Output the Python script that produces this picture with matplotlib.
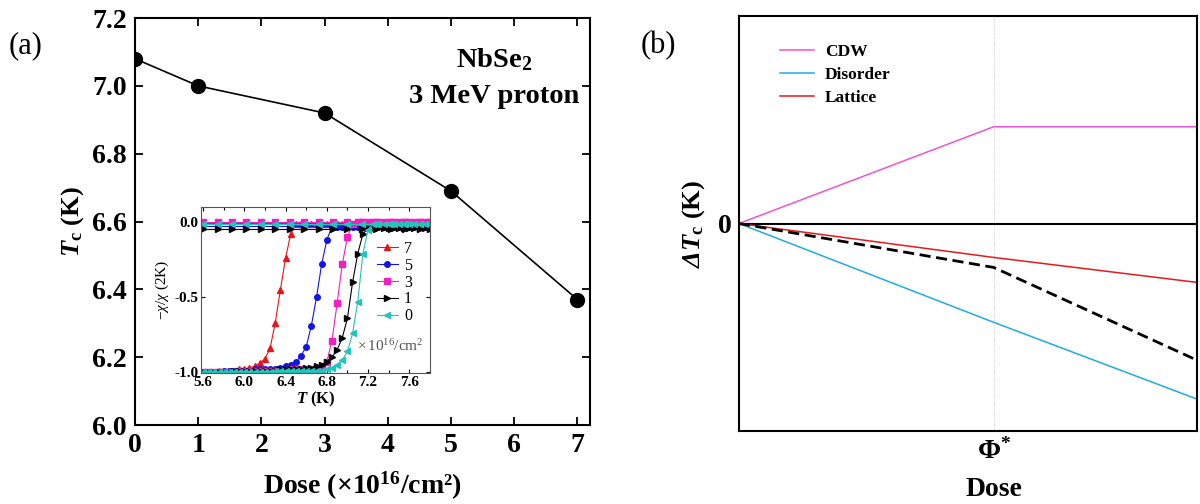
import matplotlib
matplotlib.use("Agg")
import matplotlib.pyplot as plt
import numpy as np

plt.rcParams['font.family'] = ['Liberation Serif', 'DejaVu Serif']
plt.rcParams['mathtext.fontset'] = 'custom'
plt.rcParams['mathtext.rm'] = 'Liberation Serif'
plt.rcParams['mathtext.it'] = 'Liberation Serif:italic'
plt.rcParams['mathtext.bf'] = 'Liberation Serif:bold'
plt.rcParams['mathtext.bfit'] = 'Liberation Serif:italic:bold'
plt.rcParams['axes.unicode_minus'] = False

# ---- panel (a): Tc vs dose
dose = [0, 1, 3, 5, 7]
tc = [7.08, 7.00, 6.92, 6.69, 6.37]

# ---- inset: ZFC susceptibility curves
T_zfc = [5.60, 5.65, 5.70, 5.75, 5.80, 5.85, 5.90, 5.95, 6.00, 6.05,
         6.10, 6.15, 6.20, 6.25, 6.30, 6.35, 6.40, 6.45, 6.50, 6.55,
         6.60, 6.65, 6.70, 6.75, 6.80, 6.85, 6.90, 6.95, 7.00, 7.05,
         7.10, 7.15, 7.20, 7.25, 7.30, 7.35, 7.40, 7.45, 7.50, 7.55,
         7.60, 7.65, 7.70, 7.75, 7.80]

chi_7 = [-1.00, -1.00, -1.00, -0.99, -0.99, -0.99, -0.99, -0.98, -0.98, -0.97,
         -0.96, -0.94, -0.91, -0.84, -0.67, -0.45, -0.24, -0.08, -0.01, -0.01,
         -0.01, -0.01, -0.01, -0.01, -0.01, -0.01, -0.01, -0.01, -0.01, -0.01,
         -0.01, -0.01, -0.01, -0.01, -0.01, -0.01, -0.01, -0.01, -0.01, -0.01,
         -0.01, -0.01, -0.01, -0.01, -0.01]
chi_5 = [-1.00, -1.00, -1.00, -1.00, -0.99, -0.99, -0.99, -0.99, -0.99, -0.99,
         -0.98, -0.98, -0.98, -0.98, -0.98, -0.97, -0.96, -0.95, -0.93, -0.89,
         -0.83, -0.69, -0.50, -0.28, -0.12, -0.03, -0.03, -0.03, -0.03, -0.03,
         -0.03, -0.03, -0.03, -0.03, -0.03, -0.03, -0.03, -0.03, -0.03, -0.03,
         -0.03, -0.03, -0.03, -0.03, -0.03]
chi_3 = [-1.00, -1.00, -1.00, -1.00, -1.00, -1.00, -1.00, -0.99, -0.99, -0.99,
         -0.99, -0.99, -0.99, -0.99, -0.99, -0.99, -0.99, -0.98, -0.98, -0.98,
         -0.98, -0.98, -0.97, -0.96, -0.93, -0.79, -0.54, -0.28, -0.10, -0.01,
         0.00, 0.00, 0.00, 0.00, 0.00, 0.00, 0.00, 0.00, 0.00, 0.00,
         0.00, 0.00, 0.00, 0.00, 0.00]
chi_1 = [-1.00, -1.00, -1.00, -1.00, -1.00, -1.00, -0.99, -0.99, -0.99, -0.99,
         -0.99, -0.99, -0.99, -0.99, -0.99, -0.98, -0.98, -0.98, -0.98, -0.98,
         -0.97, -0.97, -0.96, -0.95, -0.93, -0.90, -0.85, -0.77, -0.64, -0.40,
         -0.21, -0.08, -0.04, -0.04, -0.04, -0.04, -0.04, -0.04, -0.04, -0.04,
         -0.04, -0.04, -0.04, -0.04, -0.04]
chi_0 = [-1.00, -1.00, -1.00, -1.00, -1.00, -1.00, -1.00, -1.00, -1.00, -1.00,
         -1.00, -1.00, -1.00, -1.00, -0.99, -0.99, -0.99, -0.99, -0.99, -0.99,
         -0.99, -0.99, -0.99, -0.99, -0.98, -0.97, -0.95, -0.92, -0.86, -0.74,
         -0.53, -0.21, -0.05, -0.01, -0.01, -0.01, -0.01, -0.01, -0.01, -0.01,
         -0.01, -0.01, -0.01, -0.01, -0.01]

# field-cooled branches, flat near zero
T_fc = [5.60, 5.74, 5.88, 6.02, 6.16, 6.30, 6.44, 6.58, 6.72, 6.86,
        7.00, 7.14, 7.28, 7.42, 7.56, 7.70, 7.80]
fc_levels = [-0.005, -0.025, 0.0, -0.047, -0.01]

labels_in = ['7', '5', '3', '1', '0']
chis = [chi_7, chi_5, chi_3, chi_1, chi_0]
colors_in = ['#e8141c', '#1414e6', '#f020c0', 'black', '#22c4bc']
markers_in = ['^', 'o', 's', '>', '<']

# ---- panel (b): schematic contributions
x_b = [0, 0.556, 1.0]
cdw = [0, 0.97, 0.97]
disorder = [0, -0.99, -1.76]
lattice = [0, -0.34, -0.59]
total = [0, -0.44, -1.37]
phi_star = 0.556

fig = plt.figure(figsize=(12, 5.04), dpi=100)

ax1 = fig.add_axes([0.1125, 0.1567, 0.3792, 0.8075])
ax1.plot(dose, tc, color='black', lw=1.2, marker='o', ms=10, zorder=3)
ax1.set_xlim(0, 7.2)
ax1.set_ylim(6.0, 7.2)
ax1.set_xticks(range(0, 8))
ax1.set_yticks([6.0, 6.2, 6.4, 6.6, 6.8, 7.0, 7.2])
ax1.set_yticklabels(['6.0', '6.2', '6.4', '6.6', '6.8', '7.0', '7.2'])
ax1.tick_params(direction='in', top=True, right=True, length=6, width=1.3,
                labelsize=20, pad=6)
for lbl in ax1.get_xticklabels() + ax1.get_yticklabels():
    lbl.set_fontweight('bold')
for s in ax1.spines.values():
    s.set_linewidth(1.5)
ax1.set_xlabel(r"Dose (×10$^{\mathbf{16}}$/cm²)", fontsize=20, fontweight='bold', labelpad=8)
ax1.set_ylabel(r"$\mathbfit{T}_{\mathbf{c}}$ (K)", fontsize=19, fontweight='bold', labelpad=4)
ax1.text(0.79, 0.897, r"NbSe$_{\mathbf{2}}$", transform=ax1.transAxes, ha='center',
         va='center', fontsize=20.5, fontweight='bold')
ax1.text(0.79, 0.806, "3 MeV proton", transform=ax1.transAxes, ha='center',
         va='center', fontsize=20.5, fontweight='bold')
fig.text(0.007, 0.91, "(a)", fontsize=22, va='center', ha='left')

# inset
axi = fig.add_axes([0.1675, 0.2599, 0.1908, 0.3294])
for lab, chi, c, m, lev in zip(labels_in, chis, colors_in, markers_in, fc_levels):
    axi.plot(T_fc, np.full(len(T_fc), lev), color=c, lw=0.8, marker=m, ms=4)
    axi.plot(T_zfc, chi, color=c, lw=0.8, marker=m, ms=4, label=lab)
axi.set_xlim(5.58, 7.8)
axi.set_ylim(-1.005, 0.1)
axi.set_xticks([5.6, 6.0, 6.4, 6.8, 7.2, 7.6])
axi.set_xticks([5.8, 6.2, 6.6, 7.0, 7.4, 7.8], minor=True)
axi.set_yticks([-1.0, -0.5, 0.0])
axi.set_yticklabels(['-1.0', '-0.5', '0.0'])
axi.tick_params(which='both', direction='in', top=True, right=True, labelsize=11, pad=2)
axi.tick_params(which='major', length=3, width=0.8)
axi.tick_params(which='minor', length=2, width=0.8)
for lbl in axi.get_xticklabels() + axi.get_yticklabels():
    lbl.set_fontweight('bold')
for s in axi.spines.values():
    s.set_linewidth(0.8)
    s.set_color('#555555')
axi.set_xlabel(r"$\mathbfit{T}$ (K)", fontsize=12, fontweight='bold', labelpad=1)
axi.set_ylabel(r"$-\chi/\chi$ (2K)", fontsize=11, labelpad=2)
leg = axi.legend(loc='center right', bbox_to_anchor=(0.97, 0.545), fontsize=11.5,
                 frameon=True, edgecolor='none', facecolor='white', framealpha=1,
                 handlelength=1.3, handletextpad=0.4, labelspacing=0.05,
                 borderpad=0.2)
axi.text(0.97, 0.16, r"$\times\,10^{16}$/cm$^2$", transform=axi.transAxes,
         ha='right', va='center', fontsize=11, color='#555555',
         bbox=dict(facecolor='white', edgecolor='none', pad=1))

# panel (b)
ax2 = fig.add_axes([0.6158, 0.1448, 0.3817, 0.8234])
ax2.axvline(phi_star, color='#bbbbbb', lw=0.6, ls=':')
ax2.axhline(0, color='black', lw=1.5)
ax2.plot(x_b, cdw, color='#f055d0', lw=1.1, label='CDW')
ax2.plot(x_b, disorder, color='#22aae6', lw=1.1, label='Disorder')
ax2.plot(x_b, lattice, color='#e41a1c', lw=1.1, label='Lattice')
ax2.plot(x_b, total, color='black', lw=2.0, ls=(0, (4, 2)))
ax2.set_xlim(0, 1.0)
ax2.set_ylim(-2.08, 2.08)
ax2.set_xticks([phi_star])
ax2.set_xticklabels([r"$\mathbf{\Phi}^{\mathbf{*}}$"])
ax2.set_yticks([0])
ax2.set_yticklabels(['0'])
ax2.tick_params(length=0, labelsize=20, pad=5)
for lbl in ax2.get_xticklabels() + ax2.get_yticklabels():
    lbl.set_fontweight('bold')
for s in ax2.spines.values():
    s.set_linewidth(1.5)
ax2.set_xlabel("Dose", fontsize=20, fontweight='bold')
ax2.xaxis.set_label_coords(phi_star, -0.11)
ax2.set_ylabel(r"$\mathbfit{ΔT}_{\mathbf{c}}$ (K)", fontsize=19, fontweight='bold', labelpad=8)
ax2.legend(loc='upper left', bbox_to_anchor=(0.055, 0.97), frameon=False,
           prop={'weight': 'bold', 'size': 12.5}, handlelength=2.0,
           handletextpad=0.6, labelspacing=0.4)
fig.text(0.534, 0.91, "(b)", fontsize=22, va='center', ha='left')

fig.savefig("out.png", dpi=100)
